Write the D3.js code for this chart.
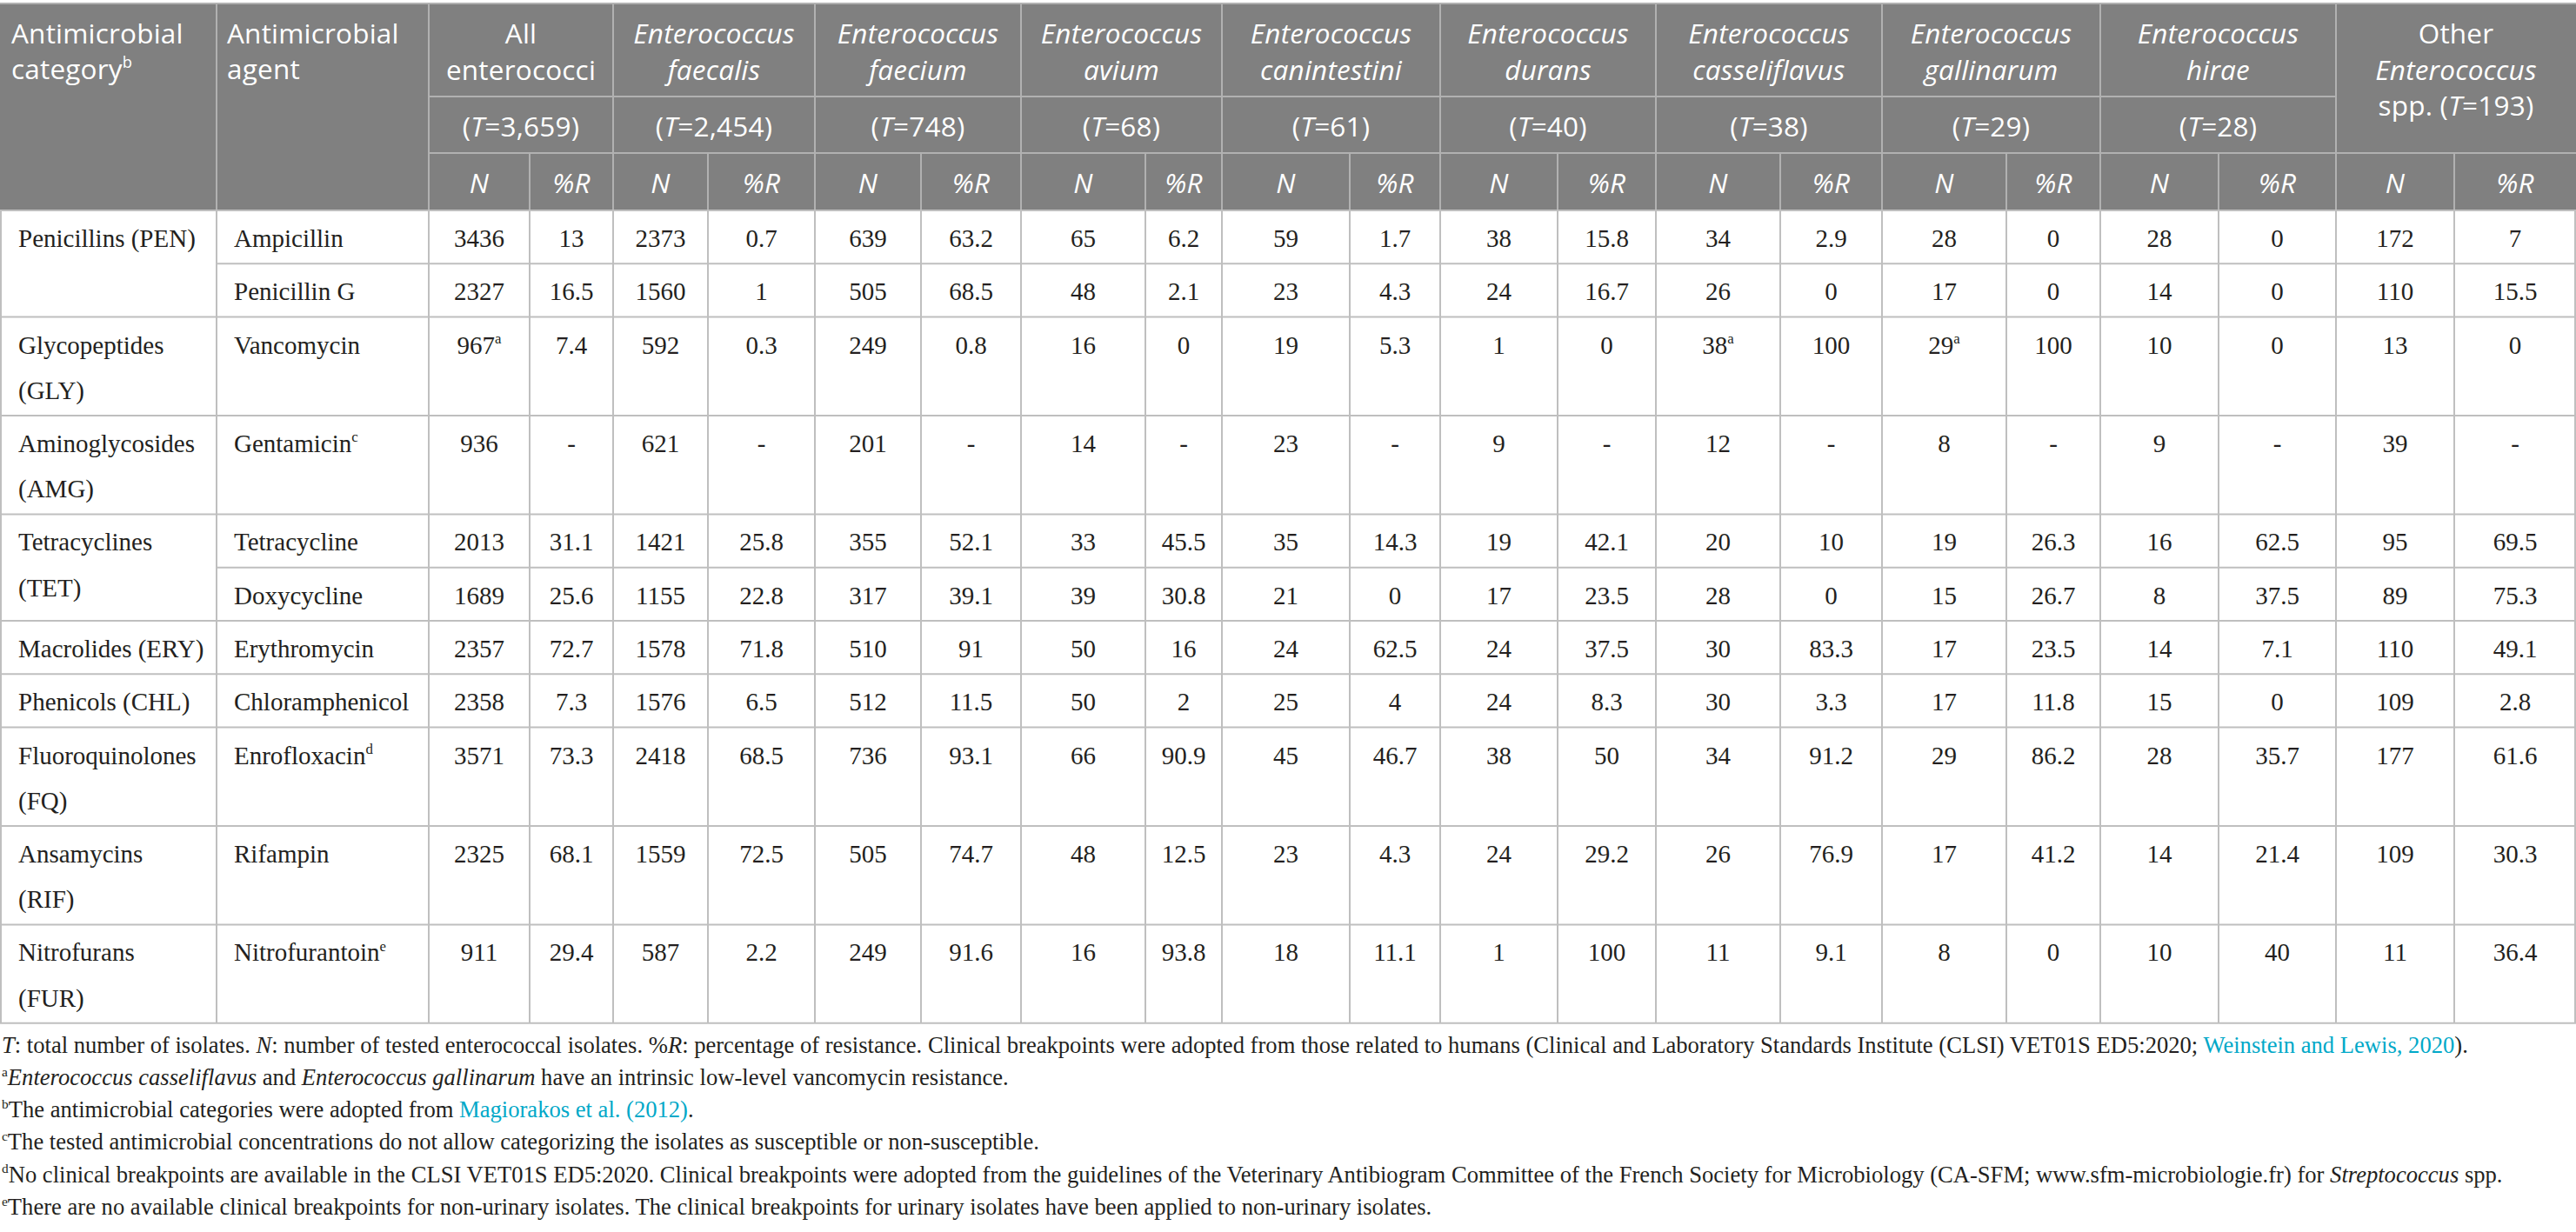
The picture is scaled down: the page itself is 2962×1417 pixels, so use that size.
<!DOCTYPE html>
<html>
<head>
<meta charset="utf-8">
<script src="https://cdn.jsdelivr.net/npm/d3@7"></script>
<style>
  body { margin: 0; background: #fff; }
  text { white-space: pre; }
</style>
</head>
<body>
<svg id="chart"></svg>
<script>
// ---- data ----
const groupLabels = [
  ["All", "enterococci"],
  ["Enterococcus", "faecalis"],
  ["Enterococcus", "faecium"],
  ["Enterococcus", "avium"],
  ["Enterococcus", "canintestini"],
  ["Enterococcus", "durans"],
  ["Enterococcus", "casseliflavus"],
  ["Enterococcus", "gallinarum"],
  ["Enterococcus", "hirae"],
  ["Other", "Enterococcus", "spp."]
];
const groupTotals = [3659, 2454, 748, 68, 61, 40, 38, 29, 28, 193];

const categories = [
  ["Penicillins (PEN)"],
  ["Glycopeptides", "(GLY)"],
  ["Aminoglycosides", "(AMG)"],
  ["Tetracyclines", "(TET)"],
  ["Macrolides (ERY)"],
  ["Phenicols (CHL)"],
  ["Fluoroquinolones", "(FQ)"],
  ["Ansamycins", "(RIF)"],
  ["Nitrofurans", "(FUR)"]
];
const agents = ["Ampicillin", "Penicillin G", "Vancomycin", "Gentamicin", "Tetracycline",
  "Doxycycline", "Erythromycin", "Chloramphenicol", "Enrofloxacin", "Rifampin", "Nitrofurantoin"];
const agentCategory = [0, 0, 1, 2, 3, 3, 4, 5, 6, 7, 8];
const agentNotes = ["", "", "", "c", "", "", "", "", "d", "", "e"];

// N tested per agent (rows) and group (columns)
const testedN = [
  [3436, 2373, 639, 65, 59, 38, 34, 28, 28, 172],
  [2327, 1560, 505, 48, 23, 24, 26, 17, 14, 110],
  [967, 592, 249, 16, 19, 1, 38, 29, 10, 13],
  [936, 621, 201, 14, 23, 9, 12, 8, 9, 39],
  [2013, 1421, 355, 33, 35, 19, 20, 19, 16, 95],
  [1689, 1155, 317, 39, 21, 17, 28, 15, 8, 89],
  [2357, 1578, 510, 50, 24, 24, 30, 17, 14, 110],
  [2358, 1576, 512, 50, 25, 24, 30, 17, 15, 109],
  [3571, 2418, 736, 66, 45, 38, 34, 29, 28, 177],
  [2325, 1559, 505, 48, 23, 24, 26, 17, 14, 109],
  [911, 587, 249, 16, 18, 1, 11, 8, 10, 11]
];
// %R, null = not categorised
const resistancePct = [
  [13, 0.7, 63.2, 6.2, 1.7, 15.8, 2.9, 0, 0, 7],
  [16.5, 1, 68.5, 2.1, 4.3, 16.7, 0, 0, 0, 15.5],
  [7.4, 0.3, 0.8, 0, 5.3, 0, 100, 100, 0, 0],
  [null, null, null, null, null, null, null, null, null, null],
  [31.1, 25.8, 52.1, 45.5, 14.3, 42.1, 10, 26.3, 62.5, 69.5],
  [25.6, 22.8, 39.1, 30.8, 0, 23.5, 0, 26.7, 37.5, 75.3],
  [72.7, 71.8, 91, 16, 62.5, 37.5, 83.3, 23.5, 7.1, 49.1],
  [7.3, 6.5, 11.5, 2, 4, 8.3, 3.3, 11.8, 0, 2.8],
  [73.3, 68.5, 93.1, 90.9, 46.7, 50, 91.2, 86.2, 35.7, 61.6],
  [68.1, 72.5, 74.7, 12.5, 4.3, 29.2, 76.9, 41.2, 21.4, 30.3],
  [29.4, 2.2, 91.6, 93.8, 11.1, 100, 9.1, 0, 40, 36.4]
];
// [agent row, group, note]
const testedNNotes = [[2, 0, "a"], [2, 6, "a"], [2, 7, "a"]];

// footnote segments: [text, flags]  flags: i = italic, s = superscript, l = link
const footnotes = [
  [["T", "i"], [": total number of isolates. "], ["N", "i"], [": number of tested enterococcal isolates. %"], ["R", "i"],
   [": percentage of resistance. Clinical breakpoints were adopted from those related to humans (Clinical and Laboratory Standards Institute (CLSI) VET01S ED5:2020; "],
   ["Weinstein and Lewis, 2020", "l"], [")."]],
  [["a", "s"], ["Enterococcus casseliflavus", "i"], [" and "], ["Enterococcus gallinarum", "i"], [" have an intrinsic low-level vancomycin resistance."]],
  [["b", "s"], ["The antimicrobial categories were adopted from "], ["Magiorakos et al. (2012)", "l"], ["."]],
  [["c", "s"], ["The tested antimicrobial concentrations do not allow categorizing the isolates as susceptible or non-susceptible."]],
  [["d", "s"], ["No clinical breakpoints are available in the CLSI VET01S ED5:2020. Clinical breakpoints were adopted from the guidelines of the Veterinary Antibiogram Committee of the French Society for Microbiology (CA-SFM; www.sfm-microbiologie.fr) for "], ["Streptococcus", "i"], [" spp."]],
  [["e", "s"], ["There are no available clinical breakpoints for non-urinary isolates. The clinical breakpoints for urinary isolates have been applied to non-urinary isolates."]]
];

// ---- layout ----
const W = 2962, H = 1417;
const colEdges = [0, 249, 493, 609, 705, 814, 937, 1059, 1174, 1317, 1405, 1552, 1656, 1791,
  1904, 2047, 2164, 2307, 2415, 2551, 2686, 2822, 2962];
const headTop = 4, headRow1 = 111, headRow2 = 176, headBottom = 242;
const singleRow = 61.3, lineStep = 52.1, rowPad = 9.2;

const headFont = "'Open Sans', 'Noto Sans', sans-serif";
const bodyFont = "'Liberation Serif', 'Times New Roman', serif";
const headFill = "#808080", headLine = "#b1b1b1", bodyLine = "#bfbfbf";
const textColor = "#231f20", linkColor = "#00a8c8";

const x = d3.scaleOrdinal().domain(d3.range(colEdges.length)).range(colEdges);
const fmtT = d3.format(",");
const fmtNum = d3.format("~f");

// row heights from category line counts and spans
const catSpan = categories.map((c, ci) => agentCategory.filter(a => a === ci).length);
const rowHeights = agents.map((a, i) => {
  const ci = agentCategory[i];
  const need = rowPad + categories[ci].length * lineStep;
  return Math.max(catSpan[ci] * singleRow, need) / catSpan[ci];
});
const rowTops = [headBottom, ...d3.cumsum(rowHeights).map(v => v + headBottom)];
const y = d3.scaleOrdinal().domain(d3.range(rowTops.length)).range(rowTops);
const tableBottom = y(agents.length);

const svg = d3.select("#chart").attr("width", W).attr("height", H)
  .attr("viewBox", [0, 0, W, H]);

function addSegs(t, segs, fs, supRaise) {
  let shift = 0;
  segs.forEach(([txt, flags = ""]) => {
    const ts = t.append("tspan").text(txt);
    const target = flags.includes("s") ? -fs * supRaise : 0;
    if (target !== shift) { ts.attr("dy", target - shift); shift = target; }
    if (flags.includes("s")) ts.attr("font-size", fs * 0.58);
    if (flags.includes("i")) ts.attr("font-style", "italic");
    if (flags.includes("l")) ts.attr("fill", linkColor);
  });
}

// ---- header ----
const head = svg.append("g").attr("font-family", headFont).attr("fill", "#fff")
  .attr("letter-spacing", 0.2);
const hfs = 31.5;
head.append("rect").attr("x", 0).attr("y", headTop).attr("width", W)
  .attr("height", headBottom - headTop).attr("fill", headFill);

const catHead = head.append("g").attr("font-size", hfs);
catHead.append("text").attr("x", x(0) + 13).attr("y", 50).text("Antimicrobial");
addSegs(catHead.append("text").attr("x", x(0) + 13).attr("y", 91), [["category"], ["b", "s"]], hfs, 0.4);
catHead.append("text").attr("x", x(1) + 12).attr("y", 50).text("Antimicrobial");
catHead.append("text").attr("x", x(1) + 12).attr("y", 91).text("agent");

groupLabels.forEach((lines, g) => {
  const x0 = x(2 + 2 * g), x1 = x(4 + 2 * g), cx = (x0 + x1) / 2;
  const gg = head.append("g").attr("font-size", hfs).attr("text-anchor", "middle");
  const isOther = g === groupLabels.length - 1;
  lines.forEach((ln, li) => {
    const t = gg.append("text").attr("x", cx).attr("y", 50 + li * 41.5);
    const italic = (g > 0 && !isOther) || (isOther && li === 1);
    if (isOther && li === 2) {
      addSegs(t, [[ln + " ("], ["T", "i"], ["=" + fmtT(groupTotals[g]) + ")"]], hfs, 0);
    } else {
      t.text(ln).attr("font-style", italic ? "italic" : null);
    }
  });
  if (!isOther) {
    addSegs(gg.append("text").attr("x", cx).attr("y", 157),
      [["("], ["T", "i"], ["=" + fmtT(groupTotals[g]) + ")"]], hfs, 0);
  }
  [0, 1].forEach(k => {
    const sx = (x(2 + 2 * g + k) + x(3 + 2 * g + k)) / 2;
    gg.append("text").attr("x", sx).attr("y", 221.5).attr("font-style", "italic")
      .text(k === 0 ? "N" : "%R");
  });
});

// header grid
const hl = head.append("g").attr("stroke", headLine).attr("stroke-width", 2);
hl.append("line").attr("x1", 0).attr("x2", W).attr("y1", headTop).attr("y2", headTop);
hl.append("line").attr("x1", x(2)).attr("x2", x(colEdges.length - 3)).attr("y1", headRow1).attr("y2", headRow1);
hl.append("line").attr("x1", x(2)).attr("x2", W).attr("y1", headRow2).attr("y2", headRow2);
colEdges.forEach((e, i) => {
  if (i === 0 || i === colEdges.length - 1) return;
  const isSplit = i >= 2 && (i % 2 === 1);
  hl.append("line").attr("x1", e).attr("x2", e)
    .attr("y1", isSplit ? headRow2 : headTop).attr("y2", headBottom);
});

// ---- body ----
const body = svg.append("g").attr("font-family", bodyFont).attr("fill", textColor);
const bfs = 29;

categories.forEach((lines, ci) => {
  const first = agentCategory.indexOf(ci);
  lines.forEach((ln, li) => {
    body.append("text").attr("x", x(0) + 21).attr("y", y(first) + 42 + li * lineStep)
      .attr("font-size", bfs).text(ln);
  });
});

agents.forEach((a, r) => {
  const segs = [[a]];
  if (agentNotes[r]) segs.push([agentNotes[r], "s"]);
  addSegs(body.append("text").attr("x", x(1) + 20).attr("y", y(r) + 42).attr("font-size", bfs), segs, bfs, 0.4);

  testedN[r].forEach((n, g) => {
    const note = testedNNotes.find(d => d[0] === r && d[1] === g);
    const cx = (x(2 + 2 * g) + x(3 + 2 * g)) / 2;
    const segsN = [[String(n)]];
    if (note) segsN.push([note[2], "s"]);
    addSegs(body.append("text").attr("x", cx).attr("y", y(r) + 42).attr("font-size", bfs)
      .attr("text-anchor", "middle"), segsN, bfs, 0.4);
    const p = resistancePct[r][g];
    const px = (x(3 + 2 * g) + x(4 + 2 * g)) / 2;
    body.append("text").attr("x", px).attr("y", y(r) + 42).attr("font-size", bfs)
      .attr("text-anchor", "middle").text(p === null ? "-" : fmtNum(p));
  });
});

// body grid
const bl = svg.append("g").attr("stroke", bodyLine).attr("stroke-width", 2);
d3.range(1, agents.length + 1).forEach(r => {
  const sameCat = r < agents.length && agentCategory[r] === agentCategory[r - 1];
  bl.append("line").attr("x1", sameCat ? x(1) : 0).attr("x2", W)
    .attr("y1", y(r)).attr("y2", y(r));
});
bl.append("line").attr("x1", 0).attr("x2", W).attr("y1", headBottom).attr("y2", headBottom);
colEdges.forEach(e => {
  const ex = Math.min(Math.max(e, 1), W - 1);
  bl.append("line").attr("x1", ex).attr("x2", ex).attr("y1", headBottom).attr("y2", tableBottom);
});

// ---- footnotes ----
const notes = svg.append("g").attr("font-family", bodyFont).attr("fill", textColor);
const nfs = 26.6;
footnotes.forEach((segs, i) => {
  addSegs(notes.append("text").attr("x", 2).attr("y", tableBottom + 34 + i * 37.2)
    .attr("font-size", nfs), segs, nfs, 0.38);
});
</script>
</body>
</html>
